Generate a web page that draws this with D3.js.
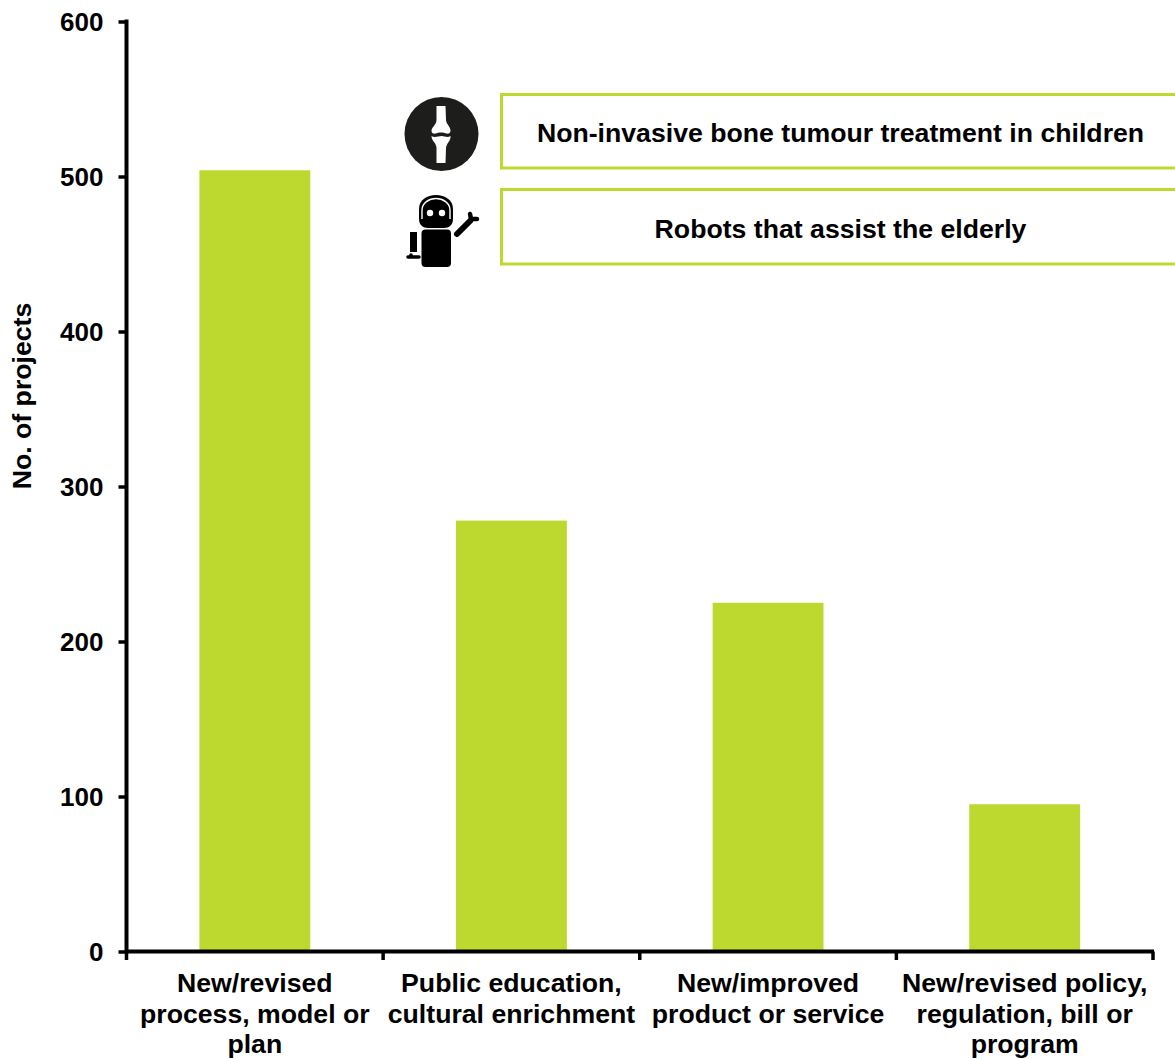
<!DOCTYPE html>
<html>
<head>
<meta charset="utf-8">
<style>
  html, body { margin: 0; padding: 0; background: #fff; }
  svg { display: block; }
  text { font-family: "Liberation Sans", Arial, sans-serif; font-weight: 700; fill: #000; }
</style>
</head>
<body>
<svg id="chart" width="1175" height="1059"></svg>
<script src="https://cdn.jsdelivr.net/npm/d3@7/dist/d3.min.js"></script>
<script>
const categories = ["cat1", "cat2", "cat3", "cat4"];
const categoryLines = [
  ["New/revised", "process, model or", "plan"],
  ["Public education,", "cultural enrichment"],
  ["New/improved", "product or service"],
  ["New/revised policy,", "regulation, bill or", "program"]
];
const projects = [504, 278, 225, 95];
const yTicks = [0, 100, 200, 300, 400, 500, 600];
const callouts = ["Non-invasive bone tumour treatment in children", "Robots that assist the elderly"];

const GREEN = "#bdd92f";
const FONT = 26.67;
const svg = d3.select("#chart");

const x = d3.scaleBand().domain(categories).range([126.5, 1153]).paddingInner(0.568).paddingOuter(0.284);
const y = d3.scaleLinear().domain([0, 600]).range([951.5, 21.5]);
const stepX = x.step();

// Bars
svg.append("g").selectAll("rect").data(projects).join("rect")
  .attr("x", (d, i) => x(categories[i]))
  .attr("y", d => y(d))
  .attr("width", x.bandwidth())
  .attr("height", d => y(0) - y(d))
  .attr("fill", GREEN);

// Value axis
const yAxis = d3.axisLeft(y).tickValues(yTicks).tickSize(8).tickPadding(15).tickFormat(d3.format("d"));
const gy = svg.append("g").attr("transform", "translate(126.5,0)").call(yAxis);
gy.select(".domain").attr("stroke", "#000").attr("stroke-width", 4).attr("d", `M0,${y(600) - 2}V${y(0) + 2}`);
gy.selectAll(".tick line").attr("stroke", "#000").attr("stroke-width", 3.5);
gy.selectAll(".tick text").attr("font-size", 26).attr("font-family", null).attr("dy", "0.34em");

// Category axis: ticks sit on the band boundaries
const boundaries = d3.range(categories.length + 1).map(i => 126.5 + i * stepX);
const gx = svg.append("g");
gx.append("line").attr("x1", 125).attr("x2", 1154).attr("y1", y(0)).attr("y2", y(0))
  .attr("stroke", "#000").attr("stroke-width", 4);
gx.selectAll("line.t").data(boundaries).join("line").attr("class", "t")
  .attr("x1", d => d).attr("x2", d => d).attr("y1", y(0)).attr("y2", y(0) + 8.5)
  .attr("stroke", "#000").attr("stroke-width", 3.5);

gx.selectAll("text.cat").data(categoryLines).join("text").attr("class", "cat")
  .attr("text-anchor", "middle").attr("font-size", FONT)
  .each(function (lines, i) {
    const cx = x(categories[i]) + x.bandwidth() / 2;
    d3.select(this).selectAll("tspan").data(lines).join("tspan")
      .attr("x", cx).attr("y", (d, j) => 992 + j * 30.5).text(d => d);
  });

// Axis title
svg.append("text").attr("transform", "translate(31,396) rotate(-90)")
  .attr("text-anchor", "middle").attr("font-size", FONT).text("No. of projects");

// Callout boxes, open on the right edge
const boxTop = [94.5, 189.5], boxBottom = [168, 264];
const boxes = svg.append("g");
callouts.forEach((label, i) => {
  boxes.append("path")
    .attr("d", `M1175,${boxTop[i]}H501.5V${boxBottom[i]}H1175`)
    .attr("fill", "none").attr("stroke", GREEN).attr("stroke-width", 3);
  boxes.append("text").attr("x", 840.5).attr("y", (boxTop[i] + boxBottom[i]) / 2 + 11)
    .attr("text-anchor", "middle").attr("font-size", FONT).text(label);
});

// Knee joint icon
const knee = svg.append("g").attr("transform", "translate(441.5,134)");
knee.append("circle").attr("r", 37).attr("fill", "#1d1d1b");
knee.append("path").attr("fill", "#fff")
  .attr("d", "M-5,-28H4L4.5,-14C5,-9 9,-8 9,-3C9,-1 7,0 5,-0.5C2,-2 -3,-2 -6,-0.5C-8,0 -10,-1 -10,-3C-10,-7 -5,-9 -5,-14Z");
knee.append("path").attr("fill", "#fff")
  .attr("d", "M-10,2C-7,4 -3,2 0,2C3,2 6,4 9,2C9.5,7 5,9 4.5,14L4,29H-5L-5,14C-5,9 -10,7 -10,2Z");

// Robot icon
const robot = svg.append("g").attr("transform", "translate(390,85)");
robot.append("path").attr("fill", "#000")
  .attr("d", "M29,134V124C29,115 37,110 46,110C55,110 63,115 63,124V134C63,140 59,143 54,143H38C33,143 29,140 29,134Z");
robot.append("path").attr("fill", "none").attr("stroke", "#fff").attr("stroke-width", 1.4)
  .attr("d", "M32,134V125C32,118 39,113.5 46,113.5C53,113.5 60,118 60,125V134");
robot.append("circle").attr("cx", 40).attr("cy", 128).attr("r", 3.2).attr("fill", "#fff");
robot.append("circle").attr("cx", 52).attr("cy", 128).attr("r", 3.2).attr("fill", "#fff");
robot.append("rect").attr("x", 31.5).attr("y", 144.5).attr("width", 29.5).attr("height", 37.5).attr("rx", 4).attr("fill", "#000");
robot.append("path").attr("fill", "#000").attr("d", "M20,147H27V167H20Z");
robot.append("path").attr("fill", "none").attr("stroke", "#000").attr("stroke-width", 3.5).attr("stroke-linecap", "round")
  .attr("d", "M18,172H29M21,170V172");
robot.append("path").attr("fill", "none").attr("stroke", "#000").attr("stroke-width", 6).attr("stroke-linecap", "round")
  .attr("d", "M67,149L80,136");
robot.append("path").attr("fill", "none").attr("stroke", "#000").attr("stroke-width", 4.5).attr("stroke-linecap", "round")
  .attr("d", "M80,129L81,134L87,134");
</script>
</body>
</html>
